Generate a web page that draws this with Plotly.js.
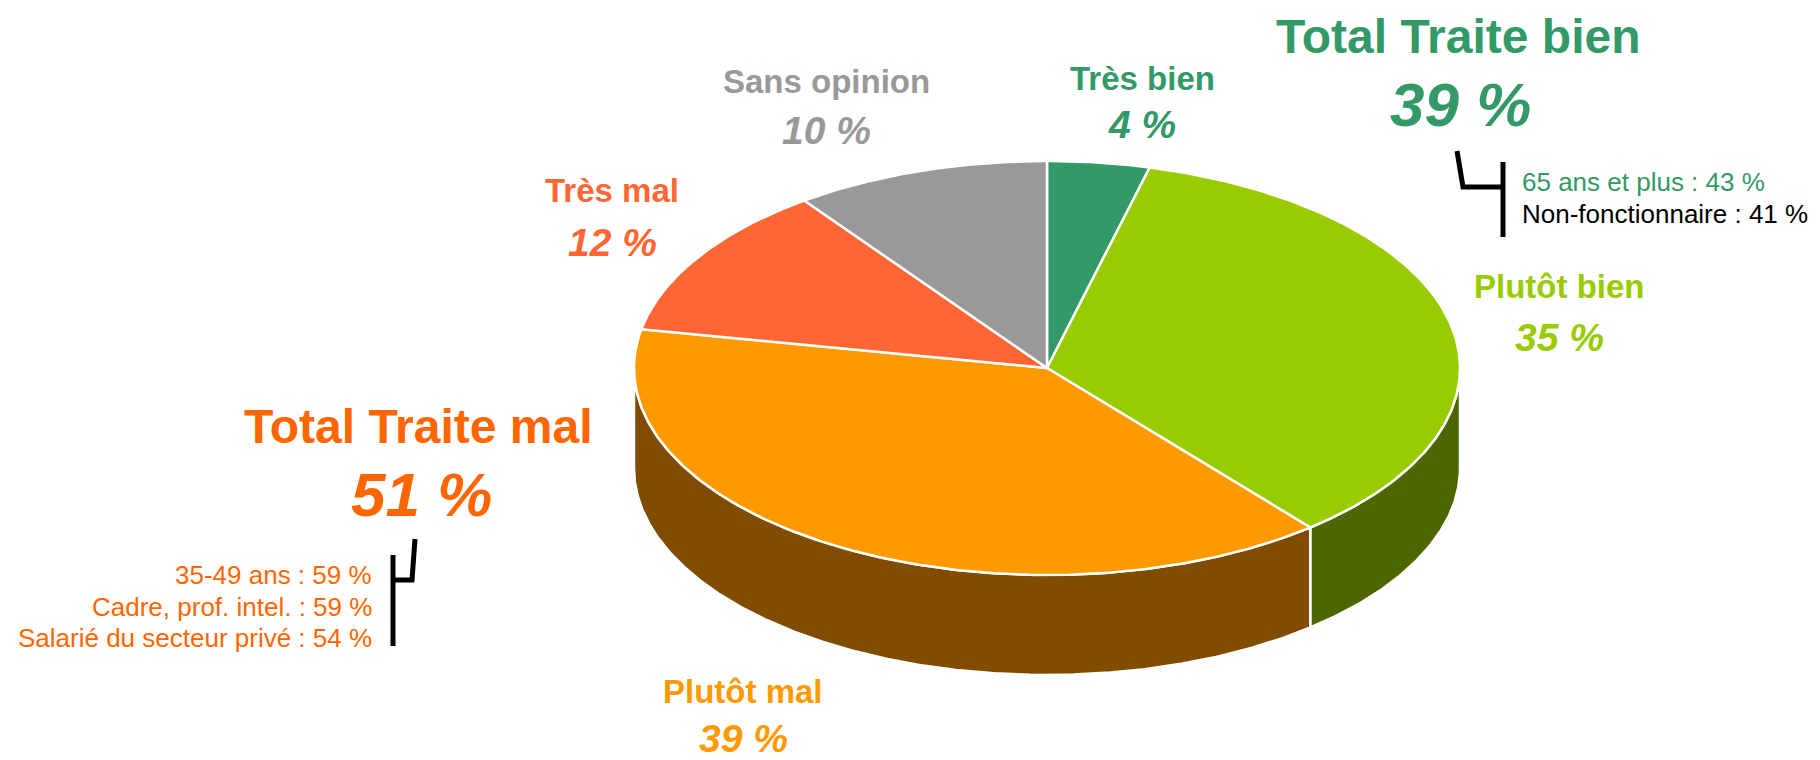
<!DOCTYPE html>
<html><head><meta charset="utf-8">
<script src="https://cdn.plot.ly/plotly-3.0.1.min.js"></script>
<style>html,body{margin:0;padding:0;background:#fff;} #chart{width:1820px;height:760px;}</style>
</head><body><div id="chart"></div>
<script>
// ---- data ----
const categories = ['Très bien', 'Plutôt bien', 'Plutôt mal', 'Très mal', 'Sans opinion'];
const values = [4, 35, 39, 12, 10];
const totalLabels = ['Total Traite bien', 'Total Traite mal'];
const totalValues = [39, 51];
const bienDetails = ['65 ans et plus : 43 %', 'Non-fonctionnaire : 41 %'];
const malDetails = ['35-49 ans : 59 %', 'Cadre, prof. intel. : 59 %', 'Salarié du secteur privé : 54 %'];

// ---- styles ----
const FONT = 'Liberation Sans, Arial, sans-serif';
const topColors = ['#339966', '#99cc00', '#ff9900', '#ff6633', '#999999'];
const sideColors = ['#1f5c3d', '#4d6600', '#804c00', '#803319', '#4d4d4d'];
const labelPos = [[1142, 78, 124], [1559, 286, 337], [743, 691, 738], [612, 190, 242], [826, 81, 130]];
const G = {cx: 1047, cy: 368, a: 413, b: 207, depth: 100};

function pt(deg, dy) {
  const r = deg * Math.PI / 180;
  return [G.cx + G.a * Math.sin(r), G.cy - G.b * Math.cos(r) + (dy || 0)];
}
function arc(s, e, dy) {
  const out = [];
  const n = Math.max(2, Math.ceil(Math.abs(e - s) / 0.5));
  for (let k = 0; k <= n; k++) out.push(pt(s + (e - s) * k / n, dy));
  return out;
}

const total = values.reduce((p, c) => p + c, 0);
const walls = [], tops = [];
let cum = 0;
values.forEach((v, i) => {
  const t0 = cum / total * 360, t1 = (cum + v) / total * 360;
  cum += v;
  const s = Math.max(t0, 90), e = Math.min(t1, 270);
  if (s < e) {
    const pts = arc(s, e, 0).concat(arc(e, s, G.depth));
    pts.push(pts[0]);
    walls.push({
      type: 'scatter', mode: 'lines', x: pts.map(p => p[0]), y: pts.map(p => p[1]),
      fill: 'toself', fillcolor: sideColors[i], line: {color: '#ffffff', width: 2.5},
      hoverinfo: 'skip', showlegend: false
    });
  }
  const tp = [[G.cx, G.cy]].concat(arc(t0, t1, 0));
  tp.push([G.cx, G.cy]);
  tops.push({
    type: 'scatter', mode: 'lines', x: tp.map(p => p[0]), y: tp.map(p => p[1]),
    fill: 'toself', fillcolor: topColors[i], line: {color: '#ffffff', width: 2.5},
    hoverinfo: 'skip', showlegend: false, name: categories[i]
  });
});

const ann = [];
function A(x, y, text, size, color, xanchor) {
  ann.push({x: x, y: y, xref: 'x', yref: 'y', text: text, showarrow: false,
    xanchor: xanchor || 'center', yanchor: 'middle',
    font: {family: FONT, size: size, color: color}});
}
categories.forEach((c, i) => {
  A(labelPos[i][0], labelPos[i][1], '<b>' + c + '</b>', 33, topColors[i]);
  A(labelPos[i][0], labelPos[i][2], '<b><i>' + values[i] + ' %</i></b>', 39, topColors[i]);
});
A(1458, 36, '<b>' + totalLabels[0] + '</b>', 48, '#339966');
A(1460, 104, '<b><i>' + totalValues[0] + ' %</i></b>', 62, '#339966');
A(418, 426, '<b>' + totalLabels[1] + '</b>', 48, '#ff6600');
A(421, 494, '<b><i>' + totalValues[1] + ' %</i></b>', 62, '#ff6600');
const bienColors = ['#339966', '#000000'];
bienDetails.forEach((t, i) => A(1520, 182 + i * 31.5, t, 26, bienColors[i], 'left'));
malDetails.forEach((t, i) => A(374, 575 + i * 31.5, t, 26, '#ff6600', 'right'));

const shapes = [
  {type: 'path', path: 'M1457,151 L1463,187 L1503,187', xref: 'x', yref: 'y', line: {color: '#000', width: 5}},
  {type: 'path', path: 'M1503,162 L1503,237', xref: 'x', yref: 'y', line: {color: '#000', width: 5}},
  {type: 'path', path: 'M415,539 L412,580 L393,580', xref: 'x', yref: 'y', line: {color: '#000', width: 5}},
  {type: 'path', path: 'M393,555 L393,646', xref: 'x', yref: 'y', line: {color: '#000', width: 5}}
];

const layout = {
  width: 1820, height: 760, autosize: false,
  margin: {l: 0, r: 0, t: 0, b: 0, pad: 0},
  paper_bgcolor: '#ffffff', plot_bgcolor: '#ffffff',
  xaxis: {range: [0, 1820], visible: false, fixedrange: true},
  yaxis: {range: [760, 0], visible: false, fixedrange: true},
  showlegend: false, annotations: ann, shapes: shapes
};
Plotly.newPlot('chart', walls.concat(tops), layout, {staticPlot: true, displayModeBar: false});
</script></body></html>
